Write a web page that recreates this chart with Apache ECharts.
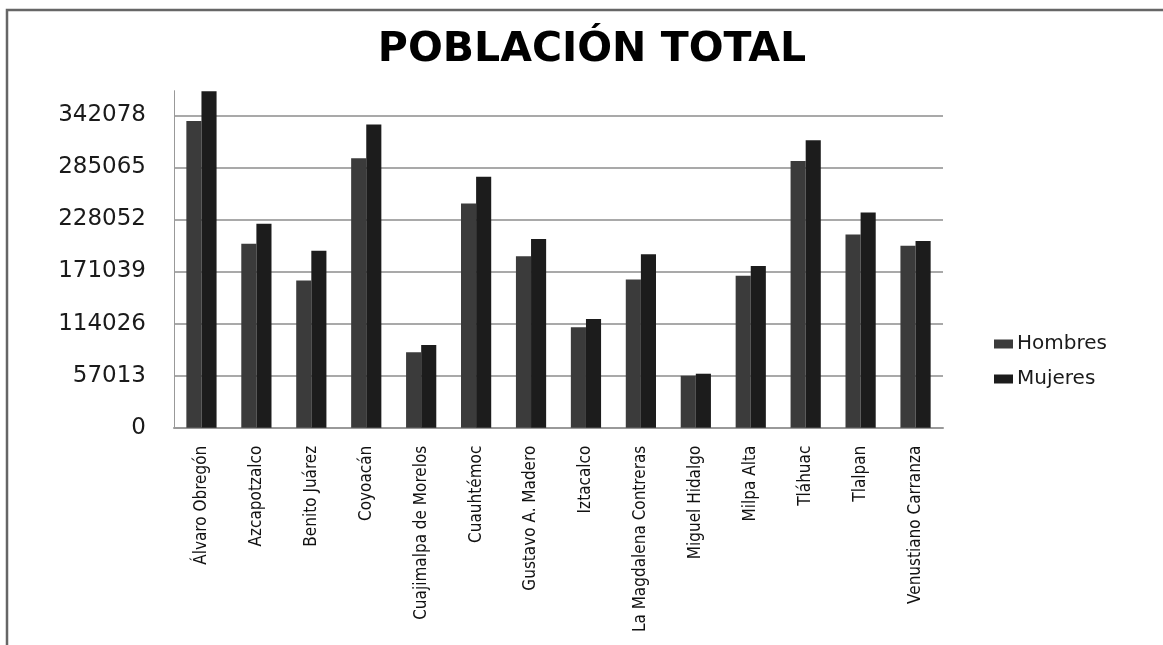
<!DOCTYPE html>
<html>
<head>
<meta charset="utf-8">
<script src="https://cdn.jsdelivr.net/npm/echarts@6/dist/echarts.min.js"></script>
<style>html,body{margin:0;padding:0;background:#fff}#c{width:1163px;height:645px}</style>
</head>
<body>
<div id="c"></div>
<script>
const categories = ['Álvaro Obregón','Azcapotzalco','Benito Juárez','Coyoacán','Cuajimalpa de Morelos','Cuauhtémoc','Gustavo A. Madero','Iztacalco','La Magdalena Contreras','Miguel Hidalgo','Milpa Alta','Tláhuac','Tlalpan','Venustiano Carranza'];
const hombres = [335900, 201400, 161300, 295100, 82500, 245600, 187600, 109900, 162400, 56900, 166300, 291900, 211600, 199200];
const mujeres = [368500, 223200, 193700, 332000, 90500, 274700, 206500, 119000, 189800, 59100, 177000, 314800, 235700, 204300];
const yTickLabels = ['0','57013','114026','171039','228052','285065','342078'];
const yInterval = 57013;
const yMax = 369000;

const chart = echarts.init(document.getElementById('c'));
chart.setOption({
  animation: false,
  backgroundColor: '#fff',
  graphic: [{
    type: 'rect', z: 100, silent: true,
    shape: {x: 7, y: 10, width: 1300, height: 800},
    style: {fill: 'none', stroke: '#666', lineWidth: 2.5}
  }],
  title: {
    text: 'POBLACIÓN TOTAL',
    left: 587, top: 25, textAlign: 'center',
    textStyle: {fontFamily: 'DejaVu Sans', fontWeight: 'bold', fontSize: 41, color: '#000'}
  },
  legend: {
    orient: 'vertical', left: 994, top: 333, padding: 0,
    itemWidth: 19, itemHeight: 9, itemGap: 13, icon: 'rect',
    textStyle: {fontFamily: 'DejaVu Sans', fontSize: 20, color: '#1a1a1a', lineHeight: 22, padding: [0,0,0,-1]},
    data: ['Hombres','Mujeres']
  },
  grid: {left: 174, right: 220, top: 90.7, bottom: 217.3, containLabel: false, outerBoundsMode: 'none'},
  xAxis: {
    type: 'category', data: categories,
    axisLine: {show: true, lineStyle: {color: '#999', width: 2}},
    axisTick: {show: false},
    axisLabel: {interval: 0, rotate: 90, margin: 18, fontFamily: "'DejaVu Sans Condensed', 'Liberation Sans', sans-serif", fontSize: 17, color: '#111'}
  },
  yAxis: {
    type: 'value', min: 0, max: yMax, interval: yInterval,
    axisLine: {show: true, lineStyle: {color: '#999', width: 1}},
    axisTick: {show: false},
    axisLabel: {
      showMaxLabel: false, margin: 28,
      fontFamily: 'DejaVu Sans', fontSize: 23, color: '#1a1a1a',
      formatter: v => { const i = Math.round(v / yInterval); return (Math.abs(v - i * yInterval) < 1 && yTickLabels[i] !== undefined) ? yTickLabels[i] : ''; }
    },
    splitLine: {show: true, showMaxLine: false, lineStyle: {color: '#8c8c8c', width: 1.5}}
  },
  series: [
    {name: 'Hombres', type: 'bar', data: hombres, barGap: '0%', barCategoryGap: '45%', itemStyle: {color: '#3b3b3b'}},
    {name: 'Mujeres', type: 'bar', data: mujeres, barGap: '0%', barCategoryGap: '45%', itemStyle: {color: '#1c1c1c'}}
  ]
});
</script>
</body>
</html>
